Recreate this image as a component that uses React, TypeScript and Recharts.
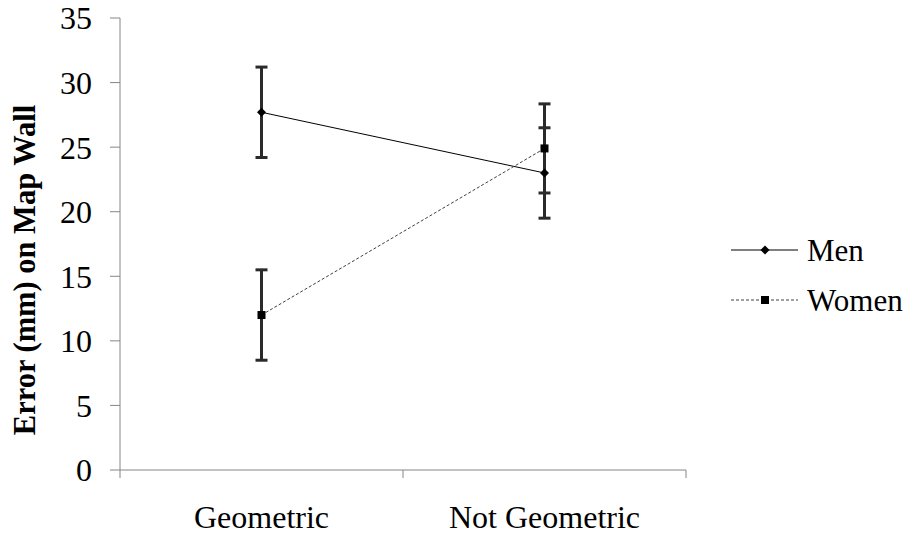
import React from 'react';
import { LineChart, Line, XAxis, YAxis, ErrorBar } from 'recharts';

const categories = ['Geometric', 'Not Geometric'];
const menValues = [27.7, 23.0];
const menErrors = [3.5, 3.5];
const womenValues = [12.0, 24.9];
const womenErrors = [3.5, 3.45];
const yTicks = [0, 5, 10, 15, 20, 25, 30, 35];
const xTicks = [0, 0.5, 1, 1.5, 2];
const seriesNames = ['Men', 'Women'];

const data = categories.map((c, i) => ({
  pos: i + 0.5,
  name: c,
  men: menValues[i],
  menErr: menErrors[i],
  women: womenValues[i],
  womenErr: womenErrors[i],
}));

const FONT = '"Liberation Serif", "Times New Roman", serif';
const AXIS = '#868686';

const XTick = (props: any) => {
  const { x, y, payload } = props;
  const v = payload.value;
  if (Number.isInteger(v)) {
    return <line x1={x} y1={y} x2={x} y2={y + 8} stroke={AXIS} strokeWidth={1} />;
  }
  return (
    <text x={x} y={y + 58} textAnchor="middle" fontFamily={FONT} fontSize={32} fill="#000">
      {categories[Math.floor(v)]}
    </text>
  );
};

const Diamond = (props: any) => {
  const { cx, cy } = props;
  if (cx == null || cy == null) return null;
  const r = 4.5;
  return <path d={`M${cx},${cy - r}L${cx + r},${cy}L${cx},${cy + r}L${cx - r},${cy}Z`} fill="#000" />;
};

const Square = (props: any) => {
  const { cx, cy } = props;
  if (cx == null || cy == null) return null;
  const s = 8;
  return <rect x={cx - s / 2} y={cy - s / 2} width={s} height={s} fill="#000" />;
};

const YLabel = (props: any) => {
  const { viewBox } = props;
  const cx = viewBox.x + 25;
  const cy = viewBox.y + viewBox.height / 2 + 26;
  return (
    <text
      x={cx}
      y={cy}
      transform={`rotate(-90, ${cx}, ${cy})`}
      textAnchor="middle"
      dominantBaseline="central"
      fontFamily={FONT}
      fontSize={30.5}
      fontWeight="bold"
      fill="#000"
    >
      Error (mm) on Map Wall
    </text>
  );
};

const LegendBox = () => (
  <div
    style={{
      position: 'absolute',
      left: 731,
      top: 225,
      fontFamily: FONT,
      fontSize: 31,
      color: '#000',
    }}
  >
    {seriesNames.map((n, i) => (
      <div key={n} style={{ display: 'flex', alignItems: 'center', height: 50 }}>
        <svg width={72} height={20} style={{ display: 'block' }}>
          <line
            x1={0}
            y1={10}
            x2={67}
            y2={10}
            stroke={i === 0 ? '#000' : '#404040'}
            strokeWidth={1}
            strokeDasharray={i === 0 ? undefined : '3 2'}
          />
          {i === 0 ? (
            <path d="M34,5.5L38.5,10L34,14.5L29.5,10Z" fill="#000" />
          ) : (
            <rect x={30} y={6} width={8} height={8} fill="#000" />
          )}
        </svg>
        <span style={{ marginLeft: 4, lineHeight: 1 }}>{n}</span>
      </div>
    ))}
  </div>
);

export default function App() {
  return (
    <div style={{ position: 'absolute', left: 0, top: 0, width: 909, height: 536, background: '#fff' }}>
      <LineChart
        width={909}
        height={536}
        data={data}
        margin={{ top: 18, right: 223, left: 0, bottom: 0 }}
      >
        <XAxis
          dataKey="pos"
          type="number"
          domain={[0, 2]}
          ticks={xTicks}
          interval={0}
          tick={<XTick />}
          tickLine={false}
          tickSize={0}
          tickMargin={0}
          axisLine={{ stroke: AXIS, strokeWidth: 1 }}
          height={66}
        />
        <YAxis
          type="number"
          domain={[0, 35]}
          ticks={yTicks}
          interval={0}
          width={120}
          tickSize={10}
          tickMargin={18}
          tickLine={{ stroke: AXIS }}
          axisLine={{ stroke: AXIS, strokeWidth: 1 }}
          tick={{ fontFamily: FONT, fontSize: 32, fill: '#000' }}
          label={<YLabel />}
        />
        <Line
          dataKey="men"
          name="Men"
          stroke="#000"
          strokeWidth={1}
          dot={<Diamond />}
          activeDot={false}
          isAnimationActive={false}
        >
          <ErrorBar dataKey="menErr" direction="y" width={6} stroke="#2a2a2a" strokeWidth={3} />
        </Line>
        <Line
          dataKey="women"
          name="Women"
          stroke="#404040"
          strokeWidth={1}
          strokeDasharray="3 2"
          dot={<Square />}
          activeDot={false}
          isAnimationActive={false}
        >
          <ErrorBar dataKey="womenErr" direction="y" width={6} stroke="#2a2a2a" strokeWidth={3} />
        </Line>
      </LineChart>
      <LegendBox />
    </div>
  );
}
